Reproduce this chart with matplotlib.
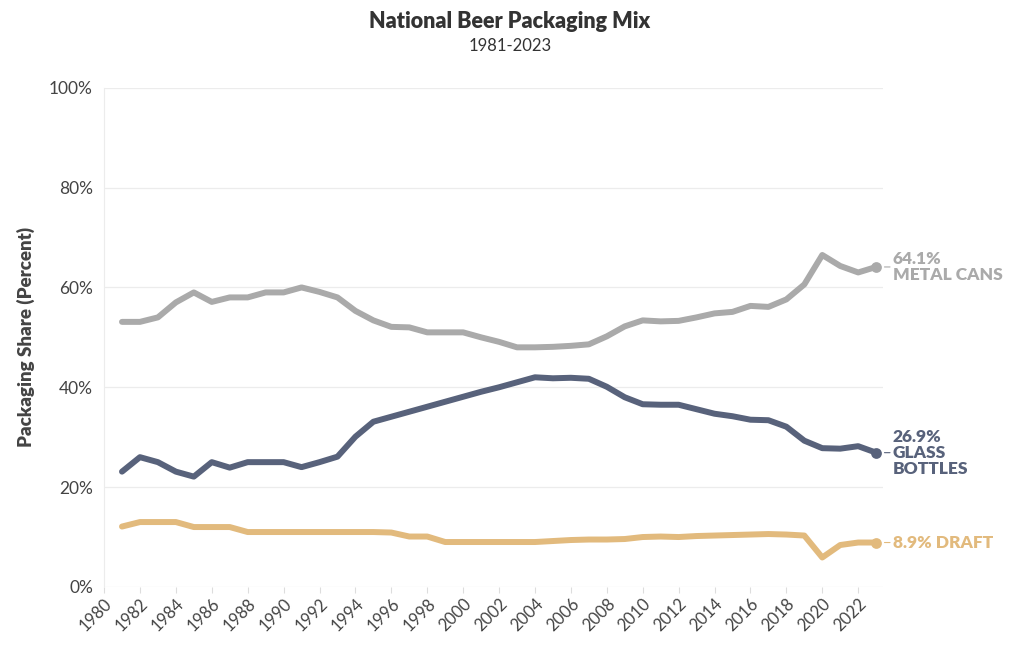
import matplotlib
matplotlib.use("Agg")
import matplotlib.pyplot as plt
from matplotlib.ticker import FuncFormatter, MultipleLocator

years = list(range(1981, 2024))

metal_cans = [53.1, 53.1, 54.0, 57.0, 59.0, 57.1, 58.0, 58.0, 59.0, 59.0,
              60.0, 59.1, 58.0, 55.3, 53.4, 52.1, 52.0, 51.0, 51.0, 51.0,
              50.0, 49.1, 48.0, 48.0, 48.1, 48.3, 48.6, 50.2, 52.2, 53.4,
              53.2, 53.3, 54.0, 54.8, 55.1, 56.3, 56.1, 57.6, 60.6, 66.5,
              64.3, 63.0, 64.1]

glass_bottles = [23.1, 26.0, 25.0, 23.1, 22.1, 25.0, 23.9, 25.0, 25.0, 25.0,
                 24.0, 25.0, 26.1, 30.1, 33.1, 34.1, 35.1, 36.1, 37.1, 38.1,
                 39.1, 40.0, 41.0, 42.0, 41.8, 41.9, 41.7, 40.1, 38.0, 36.6,
                 36.5, 36.5, 35.6, 34.7, 34.2, 33.5, 33.4, 32.1, 29.3, 27.8,
                 27.7, 28.2, 26.9]

draft = [12.1, 13.0, 13.0, 13.0, 12.0, 12.0, 12.0, 11.0, 11.0, 11.0,
         11.0, 11.0, 11.0, 11.0, 11.0, 10.9, 10.1, 10.1, 9.0, 9.0,
         9.0, 9.0, 9.0, 9.0, 9.2, 9.4, 9.5, 9.5, 9.6, 10.0,
         10.1, 10.0, 10.2, 10.3, 10.4, 10.5, 10.6, 10.5, 10.3, 5.9,
         8.4, 8.9, 8.9]

series_names = ["METAL CANS", "GLASS\nBOTTLES", "DRAFT"]
series_values = [metal_cans, glass_bottles, draft]
series_colors = ["#aaaaaa", "#58627b", "#e2ba7d"]
label_single_line = [False, False, True]

title = "National Beer Packaging Mix"
subtitle = "1981-2023"
ylabel = "Packaging Share (Percent)"

FONT = ["Lato", "DejaVu Sans"]
plt.rcParams["font.family"] = FONT

fig = plt.figure(figsize=(10.2, 6.5), dpi=100)
ax = fig.add_axes([0.102, 0.097, 0.764, 0.768])

for vals, color in zip(series_values, series_colors):
    ax.plot(years, vals, color=color, lw=4.3, solid_capstyle="round",
            solid_joinstyle="round", zorder=3)
    ax.scatter([years[-1]], [vals[-1]], s=60, color=color, zorder=4, linewidths=0)

for name, vals, color, single in zip(series_names, series_values, series_colors, label_single_line):
    last = vals[-1]
    sep = " " if single else "\n"
    txt = f"{last:.1f}%{sep}{name}"
    ax.annotate(txt, xy=(years[-1], last), xytext=(12, 0), textcoords="offset points",
                ha="left", va="center", color=color, fontsize=12.5, fontweight="heavy",
                linespacing=1.0, annotation_clip=False,
                arrowprops=dict(arrowstyle="-", color=color, lw=0.8,
                                shrinkA=0, shrinkB=6))

ax.set_xlim(1980, 2023.4)
ax.set_ylim(0, 100)
ax.xaxis.set_major_locator(MultipleLocator(2))
ax.yaxis.set_major_locator(MultipleLocator(20))
ax.yaxis.set_major_formatter(FuncFormatter(lambda v, p: f"{int(v)}%"))

ax.grid(axis="y", color="#ececec", lw=0.9, zorder=0)
for s in ["top", "right", "bottom"]:
    ax.spines[s].set_visible(False)
ax.spines["left"].set_color("#ececec")
ax.tick_params(axis="y", length=0, labelsize=12.5, labelcolor="#444444", pad=8)
ax.tick_params(axis="x", length=4, color="#dddddd", labelsize=12, labelcolor="#444444", pad=2)
for lbl in ax.get_xticklabels():
    lbl.set_rotation(45)
    lbl.set_ha("right")
    lbl.set_rotation_mode("anchor")

ax.set_ylabel(ylabel, fontsize=13.5, fontweight="heavy", color="#444444", labelpad=10)

fig.text(0.5, 0.967, title, ha="center", va="center", fontsize=15.5, fontweight="heavy", color="#333333")
fig.text(0.5, 0.929, subtitle, ha="center", va="center", fontsize=12, color="#333333")

fig.savefig("out.png", dpi=100, facecolor="white")
